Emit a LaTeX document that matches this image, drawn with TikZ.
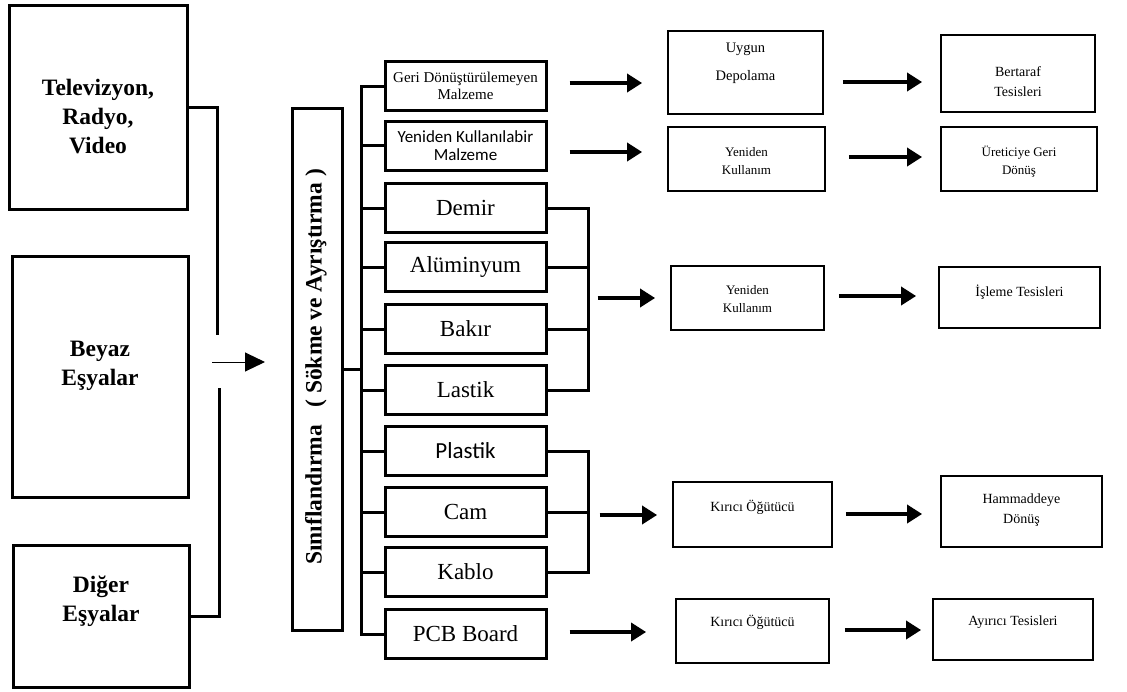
\documentclass[tikz,border=0pt]{standalone}
\usepackage{fontspec}
\setmainfont{Liberation Serif}
\newfontfamily\calib{Carlito}
\usetikzlibrary{arrows.meta}
\begin{document}
\begin{tikzpicture}[x=1pt,y=-1pt,
 box/.style={draw, line width=3pt, inner sep=0pt, align=center},
 rbox/.style={draw, line width=1.8pt, inner sep=0pt},
 ln/.style={line width=3pt},
 arr/.style={line width=3.5pt, -{Triangle[length=15pt,width=18pt]}},
 thinarr/.style={line width=1pt, -{Triangle[length=20pt,width=19pt]}},
 lbl/.style={align=center, inner sep=0pt},
 big/.style={lbl, font=\fontsize{23.5}{29}\selectfont\bfseries},
 mid/.style={box, minimum width=161pt, minimum height=49pt, font=\fontsize{23}{26}\selectfont},
 small/.style={lbl, font=\fontsize{14}{20}\selectfont},
 tiny/.style={lbl, font=\fontsize{13}{18}\selectfont},
]
\useasboundingbox (0,0) rectangle (1127,691);

% left boxes
\node[box, minimum width=178pt, minimum height=204pt] (tv) at (98,107) {};
\node[big] (tvt) at (98,117) {Televizyon,\\Radyo,\\Video};
\node[box, minimum width=176pt, minimum height=241pt] (beyaz) at (100,376.5) {};
\node[big] (beyazt) at (100,366) {Beyaz\\Eşyalar};
\node[box, minimum width=176pt, minimum height=142pt] (diger) at (101,616) {};
\node[big] (digert) at (101,601) {Diğer\\Eşyalar};

\coordinate (tvend) at (217,335);
\coordinate (digend) at (219,388);
\draw[ln] (tv.east) -| (tvend);
\draw[ln] (diger.east) -| (digend);
\coordinate (la1) at (212,362);
\coordinate (la2) at (265,362);
\draw[thinarr] (la1) -- (la2);

% vertical box
\node[box, minimum width=50pt, minimum height=522pt] (vbox) at (317,369) {};
\node[lbl, rotate=90, font=\fontsize{23.5}{26}\selectfont\bfseries] (vboxt) at (316,367)
  {Sınıflandırma\enspace\ ( Sökme ve Ayrıştırma )};

% middle boxes
\node[mid, font=\fontsize{15}{17}\selectfont] (geri) at (465.5,86) {Geri Dönüştürülemeyen\\Malzeme};
\node[mid, font=\calib\fontsize{17}{18}\selectfont] (yen) at (465.5,145.5) {Yeniden Kullanılabir\\Malzeme};
\node[mid] (demir) at (465.5,208) {Demir};
\node[mid] (alu) at (465.5,267) {Alüminyum};
\node[mid] (bakir) at (465.5,329) {Bakır};
\node[mid] (lastik) at (465.5,390) {Lastik};
\node[mid, font=\calib\fontsize{23}{26}\selectfont] (plastik) at (465.5,451) {Plastik};
\node[mid] (cam) at (465.5,512) {Cam};
\node[mid] (kablo) at (465.5,572) {Kablo};
\node[mid] (pcb) at (465.5,634) {PCB Board};

% trunk
\coordinate (trunk) at (363,369);
\draw[ln] (vbox.east) -- (trunk);
\draw[ln] (geri.west) -- ++(-22,0) |- (pcb.west);
\foreach \n in {yen,demir,alu,bakir,lastik,plastik,cam,kablo}
  \draw[ln] (\n.west) -- ++(-22,0);

% brackets
\draw[ln] (demir.east) -| ([xshift=41pt]lastik.east) -- (lastik.east);
\draw[ln] (alu.east) -- ++(41,0);
\draw[ln] (bakir.east) -- ++(41,0);
\draw[ln] (plastik.east) -| ([xshift=41pt]kablo.east) -- (kablo.east);
\draw[ln] (cam.east) -- ++(41,0);

% right boxes
\node[rbox, minimum width=155pt, minimum height=83pt] (ud) at (745.5,72.5) {};
\node[lbl, font=\fontsize{14.5}{28}\selectfont] (udt) at (745.5,63) {Uygun\\Depolama};
\node[rbox, minimum width=154pt, minimum height=77pt] (bt) at (1018,73.5) {};
\node[small] (btt) at (1018,82) {Bertaraf\\Tesisleri};
\node[rbox, minimum width=157pt, minimum height=64pt] (yk1) at (746.5,159) {};
\node[tiny] (yk1t) at (746.5,161) {Yeniden\\Kullanım};
\node[rbox, minimum width=156pt, minimum height=64pt] (ug) at (1019,159) {};
\node[tiny] (ugt) at (1019,162) {Üreticiye Geri\\Dönüş};
\node[rbox, minimum width=153pt, minimum height=64pt] (yk2) at (747.5,298) {};
\node[tiny] (yk2t) at (747.5,299.5) {Yeniden\\Kullanım};
\node[rbox, minimum width=161pt, minimum height=61pt] (it) at (1019.5,297.5) {};
\node[small] (itt) at (1019.5,292) {İşleme Tesisleri};
\node[rbox, minimum width=159pt, minimum height=65pt] (ko1) at (752.5,514.5) {};
\node[small] (ko1t) at (752.5,507) {Kırıcı Öğütücü};
\node[rbox, minimum width=161pt, minimum height=71pt] (hd) at (1021.5,511.5) {};
\node[small] (hdt) at (1021.5,510) {Hammaddeye\\Dönüş};
\node[rbox, minimum width=153pt, minimum height=64pt] (ko2) at (752.5,631) {};
\node[small] (ko2t) at (752.5,622) {Kırıcı Öğütücü};
\node[rbox, minimum width=160pt, minimum height=61pt] (at) at (1013,629.5) {};
\node[small] (att) at (1013,622) {Ayırıcı Tesisleri};

% arrows
\draw[arr] ([shift={(22,-3)}]geri.east) -- ([shift={(-25,10.5)}]ud.west);
\draw[arr] ([shift={(19,9.5)}]ud.east) -- ([shift={(-18,8.5)}]bt.west);
\draw[arr] ([shift={(22,6.5)}]yen.east) -- ([shift={(-25,-7)}]yk1.west);
\draw[arr] ([shift={(23,-2)}]yk1.east) -- ([shift={(-18,-2)}]ug.west);
\draw[arr] ([shift={(50,31)}]alu.east) -- ([shift={(-15,0)}]yk2.west);
\draw[arr] ([shift={(14,-2)}]yk2.east) -- ([shift={(-22,-1.5)}]it.west);
\draw[arr] ([shift={(52,3)}]cam.east) -- ([shift={(-15,0.5)}]ko1.west);
\draw[arr] ([shift={(13,-0.5)}]ko1.east) -- ([shift={(-18,2.5)}]hd.west);
\draw[arr] ([shift={(22,-2)}]pcb.east) -- ([shift={(-29,1)}]ko2.west);
\draw[arr] ([shift={(15,-1)}]ko2.east) -- ([shift={(-11,0.5)}]at.west);
\end{tikzpicture}
\end{document}
